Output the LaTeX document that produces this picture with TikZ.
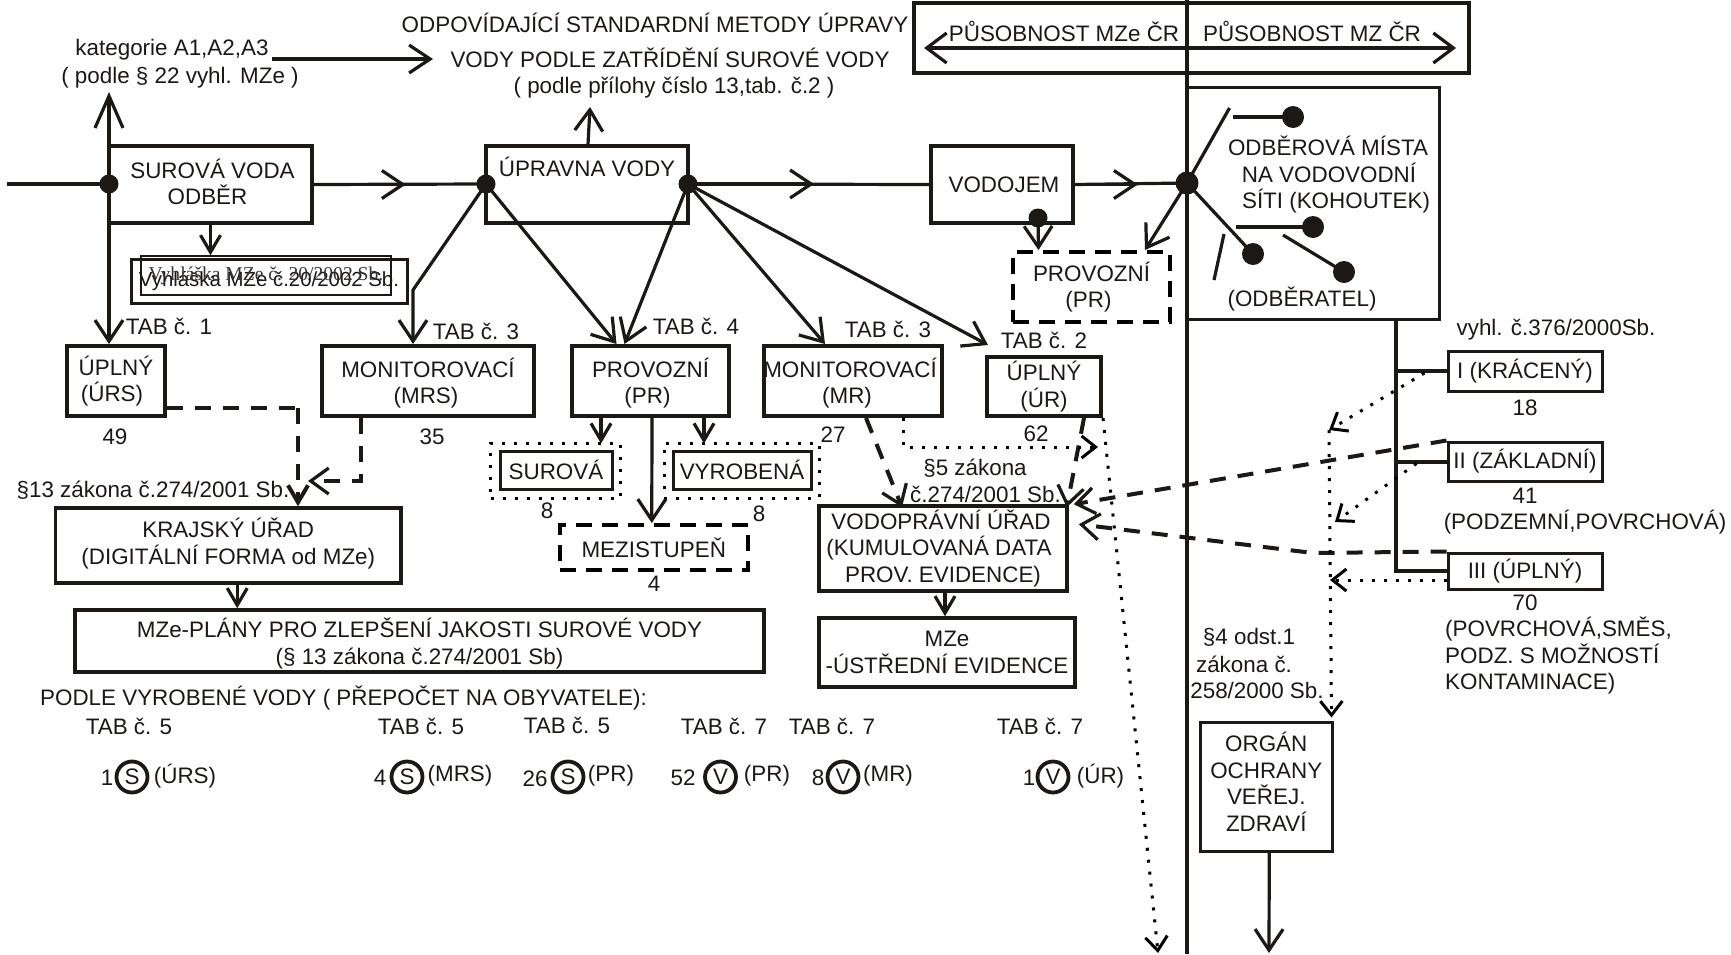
\documentclass[tikz,border=0pt]{standalone}
\usepackage{fontspec}
\setmainfont{Liberation Sans}
\newfontfamily\serifface{Liberation Serif}
\usetikzlibrary{arrows.meta,calc}
\definecolor{ink}{HTML}{1C1816}
\newcommand{\ls}[1]{\hspace*{#1pt}}
\tikzset{
  txt/.style={inner sep=0pt,align=center,text=ink,font=\fontsize{22.4}{26.5}\selectfont},
  box/.style={txt,draw=ink,line width=3.5pt,rectangle},
  thinbox/.style={txt,draw=ink,line width=3pt,rectangle},
  dashbox/.style={txt,draw=black,line width=4pt,dash pattern=on 16pt off 10pt},
  dotbox/.style={draw=black,line width=3pt,dash pattern=on 3pt off 9pt,rectangle,inner sep=0pt},
  dot/.style={circle,fill=ink,inner sep=0pt,minimum size=19pt},
  bigdot/.style={circle,fill=ink,inner sep=0pt,minimum size=23pt},
  circ/.style={txt,circle,draw=ink,line width=3.8pt,minimum size=31pt},
  ln/.style={draw=ink,line width=3.2pt},
  arr/.style={ln,-{Straight Barb[length=21pt,width=28pt]}},
  arrL/.style={ln,-{Straight Barb[length=32pt,width=28pt]}},
  arrS/.style={ln,-{Straight Barb[length=17pt,width=20pt]}},
  dsh/.style={draw=ink,line width=4pt,dash pattern=on 16pt off 12pt,-{Straight Barb[length=18pt,width=26pt,line width=3.2pt]}},
  dsh0/.style={draw=ink,line width=4pt,dash pattern=on 16pt off 12pt},
  dtt/.style={draw=black,line width=3pt,dash pattern=on 3pt off 9pt,-{Straight Barb[length=14pt,width=22pt,line width=3pt]}},
}
\newcommand{\bx}[7]{%
  \pgfmathsetmacro{\cxx}{(#2+#4)/2}\pgfmathsetmacro{\cyy}{(#3+#5)/2}%
  \node[#6,minimum width={(#4-#2)*1pt},minimum height={(#5-#3)*1pt}] (#1) at (\cxx,\cyy) {#7};}
\begin{document}
\begin{tikzpicture}[x=1pt,y=-1pt]
\useasboundingbox[fill=white] (0,0) rectangle (1731,954);
% ---- boxes
\bx{top}{914}{3}{1469}{73}{box}{}
\bx{odb}{1187}{87}{1439}{319}{thinbox}{}
\bx{srv}{109}{146}{312}{223}{box}{\ls{4}SUROVÁ VODA\\\ls{-6}ODBĚR\rule[-5pt]{0pt}{5pt}}
\bx{upr}{486}{146}{688}{223}{box}{ÚPRAVNA VODY\\[9pt]\rule{0pt}{6pt}}
\bx{voj}{931}{146}{1073}{223}{box}{\ls{4}VODOJEM\rule{0pt}{15pt}}
\bx{vyhO}{131}{259}{407}{303}{thinbox}{\fontsize{20.4}{24}\selectfont Vyhláška MZe č.20/2002 Sb.}
\bx{vyhI}{141}{256}{391}{295}{txt,draw=ink,line width=1.4pt}{\serifface\color{black!80}\fontsize{19.6}{24}\selectfont Vyhláška MZe č. 20/2002 Sb.}
\bx{urs}{67}{346}{165}{416}{box,line width=4pt}{ÚPLNÝ\\\ls{-8}(ÚRS)}
\bx{mrs}{322}{346}{534}{416}{box,line width=4pt}{\rule{0pt}{24pt}MONITOROVACÍ\\\ls{-4}(MRS)}
\bx{prv}{572}{346}{729}{416}{box,line width=4pt}{\rule{0pt}{24pt}PROVOZNÍ\\\ls{-6}(PR)}
\bx{mr}{764}{346}{942}{416}{box,line width=4pt}{\rule{0pt}{24pt}\ls{-6}MONITOROVACÍ\\\ls{-12}(MR)}
\bx{ur}{987}{357}{1101}{416}{box,line width=4pt}{ÚPLNÝ\\(ÚR)}
\bx{pdsh}{1013}{252}{1170}{322}{dashbox}{PROVOZNÍ\\\ls{-6}(PR)}
\bx{surO}{490.5}{443}{620}{498}{dotbox}{}
\bx{vyrO}{664}{443}{819}{498}{dotbox}{}
\bx{sur}{500}{451}{612}{489}{thinbox}{SUROVÁ}
\bx{vyr}{673}{451}{811}{489}{thinbox}{VYROBENÁ}
\bx{mez}{559.5}{525}{748}{570}{dashbox}{MEZISTUPEŇ}
\bx{kraj}{55.5}{508}{401}{583}{box}{KRAJSKÝ ÚŘAD\\(DIGITÁLNÍ FORMA od MZe)\rule[-9pt]{0pt}{9pt}}
\bx{plan}{75}{610}{764}{672}{box}{\rule{0pt}{25pt}MZe-PLÁNY PRO ZLEPŠENÍ JAKOSTI SUROVÉ VODY\\(§ 13 zákona č.274/2001 Sb)}
\bx{vod}{819}{506}{1067}{591}{box}{\ls{-4}VODOPRÁVNÍ ÚŘAD\\\ls{-8}(KUMULOVANÁ DATA\\PROV. EVIDENCE)}
\bx{mzc}{819}{618}{1075}{687}{box}{MZe\\-ÚSTŘEDNÍ EVIDENCE}
\bx{ki}{1448}{351}{1602}{391}{thinbox}{I (KRÁCENÝ)}
\bx{kii}{1448}{442}{1602}{481}{thinbox}{II (ZÁKLADNÍ)}
\bx{kiii}{1448}{553}{1602}{589}{thinbox}{III (ÚPLNÝ)}
\bx{org}{1200.5}{722}{1332}{851}{thinbox}{ORGÁN\\OCHRANY\\VEŘEJ.\\ZDRAVÍ\rule[-9pt]{0pt}{9pt}}
% ---- dots
\node[dot] (dS) at (109,184) {};
\node[dot] (dU1) at (486,184) {};
\node[dot] (dU2) at (688,184) {};
\node[dot] (dV) at (1038,218) {};
\node[bigdot] (dC) at (1187,183) {};
\node[bigdot,minimum size=22pt] (d1) at (1293,117) {};
\node[bigdot,minimum size=22pt] (d2) at (1313,227) {};
\node[bigdot,minimum size=22pt] (d3) at (1253,254) {};
\node[bigdot,minimum size=22pt] (d4) at (1344,272) {};
% ---- named free ends
\coordinate (vTop) at (1187,0);
\coordinate (vBot) at (1187,954);
\coordinate (inL) at (7,184);
\coordinate (topL) at (924,48);
\coordinate (topR) at (1456,48);
\coordinate (mrsK) at (413,290);
\coordinate (o1) at (1229.5,108);
\coordinate (o1b) at (1233,117);
\coordinate (o2b) at (1236,227);
\coordinate (o4b) at (1283,235);
\coordinate (o5a) at (1224,234);
\coordinate (o5b) at (1214,280);
\coordinate (riser) at (1395.5,319);
\coordinate (dv1) at (1329,430);
\coordinate (dv2) at (1335,522);
\coordinate (dv3) at (1330,580);
\coordinate (dk3) at (1313,553);
\coordinate (c1) at (298,408);
\coordinate (c2) at (361,481);
\coordinate (c3) at (308,481);
\coordinate (m1) at (903,447);
\coordinate (m2) at (1098,447);
\coordinate (offD) at (1158,953);
\coordinate (offO) at (1269,953);
\coordinate (katA) at (272,59);
\coordinate (katB) at (433,59);
\coordinate (upS) at (109,92);
\coordinate (upU) at (590,107);
% ---- main lines
\draw[ln] (vTop) -- (vBot);
\draw[ln] (inL) -- (dS.center);
\draw[ln] (srv.east) -- (dU1.center);
\draw[arr] (srv.east) -- ([xshift=92pt]srv.east);
\draw[ln] (dU2.center) -- (voj.west);
\draw[arr] (dU2.center) -- ([xshift=126pt]dU2.center);
\draw[ln] (voj.east) -- (dC.center);
\draw[arr] (voj.east) -- ([xshift=63pt]voj.east);
\draw[ln,<->,>={Straight Barb[length=20pt,width=30pt]}] (topL) -- (topR);
\draw[arrL] (dS.center) -- (upS);
\draw[arr] ([xshift=1pt]upr.north) -- (upU);
\draw[arr] (katA) -- (katB);
\draw[arrS] (srv.south) -- (srv.south |- vyhI.north);
\draw[arr] (dS.center) -- ([xshift=-7pt]urs.north);
\draw[arr] (dU1.center) -- (mrsK) -- ([xshift=-15pt]mrs.north);
\draw[arr] (dU1.center) -- ([xshift=-34pt]prv.north);
\draw[arr] (dU2.center) -- ([xshift=-26pt]prv.north);
\draw[arr] (dU2.center) -- ([xshift=-28pt]mr.north);
\draw[arr] (dU2.center) -- ([xshift=-56pt,yshift=10pt]ur.north);
\draw[arr] (dV.center) -- ([xshift=-53pt]pdsh.north);
\draw[arr] (dC.center) -- ([xshift=-27pt]pdsh.north east);
% ---- odběrová místa
\draw[ln] (dC.center) -- (o1);
\draw[ln,line width=4pt] (o1b) -- (d1.center);
\draw[ln,line width=4pt] (o2b) -- (d2.center);
\draw[ln] (dC.center) -- (d3.center);
\draw[ln] (o4b) -- (d4.center);
\draw[ln] (o5a) -- (o5b);
% ---- categories
\draw[ln,line width=4pt] (riser) |- (kiii.west);
\draw[ln,line width=4pt] (ki.west) -- (riser |- ki.west);
\draw[ln,line width=4pt] (kii.west) -- (riser |- kii.west);
% ---- below provozní
\draw[arrS] ([xshift=-49.5pt]prv.south) -- ([xshift=-49.5pt,yshift=-2pt]prv.south |- surO.north);
\draw[arrS] ([xshift=53.5pt]prv.south) -- ([xshift=53.5pt,yshift=-2pt]prv.south |- vyrO.north);
\draw[arr] ([xshift=1.5pt]prv.south) -- ([xshift=-2pt]mez.north);
\draw[arrS] ([xshift=9pt]kraj.south) -- ([xshift=9pt]kraj.south |- plan.north);
\draw[arrS] ([xshift=2pt]vod.south) -- ([xshift=2pt]vod.south |- mzc.north);
% ---- dashed
\draw[dsh0] (urs.east |- c1) -- (c1);
\draw[arrS,dash pattern=on 16pt off 12pt,line width=4pt] (c1) -- (c1 |- kraj.north);
\draw[dsh] ([xshift=-67pt]mrs.south) -- (c2) -- (c3);
\draw[dsh] ([xshift=13pt]mr.south) -- ([xshift=-41pt,yshift=-3pt]vod.north);
\draw[dsh] ([xshift=40pt]ur.south) -- ([xshift=-2pt,yshift=-3pt]vod.north east);
\draw[dsh] (kii.north west) -- ([xshift=5pt]vod.north east);
\draw[dsh] (kiii.north west) -- (dk3) -- ([xshift=10pt,yshift=-20pt]vod.north east);
% ---- dotted
\draw[dtt] ([xshift=50pt]mr.south) -- (m1) -- (m2);
\draw[dtt] (ur.south east) -- (offD);
\draw[dtt] ([xshift=-22pt,yshift=-2pt]ki.west) -- (dv1);
\draw[dtt] ([xshift=-30pt,yshift=-2pt]kii.west) -- (dv2);
\draw[dtt] ([yshift=-9pt]kiii.west) -- (dv3);
\draw[dtt] (dv1) -- ([xshift=-2pt,yshift=3pt]org.north east);
% ---- orgán
\draw[arr] ([xshift=3pt]org.south) -- (offO);
% ---- free texts
\node[txt] (tP1) at (1064,31) {PŮSOBNOST MZe ČR};
\node[txt] (tP2) at (1312,31) {PŮSOBNOST MZ ČR};
\node[txt] (tK1) at (172,50) {kategorie A1,A2,A3};
\node[txt] (tK2) at (180,78) {( podle § 22 vyhl. MZe )};
\node[txt] (tM1) at (655,23) {ODPOVÍDAJÍCÍ STANDARDNÍ METODY ÚPRAVY};
\node[txt] (tM2) at (670,58) {VODY PODLE ZATŘÍDĚNÍ SUROVÉ VODY};
\node[txt] (tM3) at (674,88) {( podle přílohy číslo 13,tab. č.2 )};
\node[txt] (tO1) at (1331,175) {\ls{-6}ODBĚROVÁ MÍSTA\\\ls{-4}NA VODOVODNÍ\\\ls{10}SÍTI (KOHOUTEK)};
\node[txt] (tO2) at (1302,299) {(ODBĚRATEL)};
\node[txt] (tT1) at (169,326) {TAB č. 1};
\node[txt] (tT2) at (476,331) {TAB č. 3};
\node[txt] (tT3) at (696,326) {TAB č. 4};
\node[txt] (tT4) at (888,329) {TAB č. 3};
\node[txt] (tT5) at (1044,340) {TAB č. 2};
\node[txt] (n49) at (115,437) {49};
\node[txt] (n35) at (432,437) {35};
\node[txt] (n27) at (833,435) {27};
\node[txt] (n62) at (1036,434) {62};
\node[txt] (n8a) at (547,511) {8};
\node[txt] (n8b) at (759,514) {8};
\node[txt] (n4) at (654,584) {4};
\node[txt] (tPar13) at (153,490) {§13 zákona č.274/2001 Sb.};
\node[txt] (tPar5a) at (975,468) {§5 zákona};
\node[txt] (tPar5b) at (985.5,494) {č.274/2001 Sb.};
\node[txt] (tV) at (1556,330) {vyhl. č.376/2000Sb.};
\node[txt] (n18) at (1525,408) {18};
\node[txt] (n41) at (1525,496) {41};
\node[txt] (n70) at (1525,603) {70};
\node[txt] (tPP) at (1585,522) {(PODZEMNÍ,POVRCHOVÁ)};
\node[txt,anchor=north west,align=left] (tPS) at (1445,617) {(POVRCHOVÁ,SMĚS,\\PODZ. S MOŽNOSTÍ\\KONTAMINACE)};
\node[txt] (tZ1) at (1249,637) {§4 odst.1};
\node[txt] (tZ2) at (1244,664) {zákona č.};
\node[txt] (tZ3) at (1257,690) {258/2000 Sb.};
\node[txt] (tPod) at (343.5,698) {PODLE VYROBENÉ VODY ( PŘEPOČET NA OBYVATELE):};
\node[txt] (t51) at (129,726) {TAB č. 5};
\node[txt] (t52) at (421,726) {TAB č. 5};
\node[txt] (t53) at (567,725) {TAB č. 5};
\node[txt] (t71) at (724,726) {TAB č. 7};
\node[txt] (t72) at (832,726) {TAB č. 7};
\node[txt] (t73) at (1040,726) {TAB č. 7};
% ---- circled
\node[circ] (cS1) at (132,777) {S};
\node[circ] (cS2) at (407,777) {S};
\node[circ] (cS3) at (568,777) {S};
\node[circ] (cV1) at (720.5,777) {V};
\node[circ] (cV2) at (843,777) {V};
\node[circ] (cV3) at (1053,777) {V};
\node[txt] (a1) at (107,778) {1};
\node[txt] (b1) at (185,776) {(ÚRS)};
\node[txt] (a2) at (380,778) {4};
\node[txt] (b2) at (460,776) {(MRS)};
\node[txt] (a3) at (535,779) {26};
\node[txt] (b3) at (611,776) {(PR)};
\node[txt] (a4) at (683,778) {52};
\node[txt] (b4) at (767,776) {(PR)};
\node[txt] (a5) at (818,778) {8};
\node[txt] (b5) at (888,776) {(MR)};
\node[txt] (a6) at (1029,778) {1};
\node[txt] (b6) at (1100.5,776) {(ÚR)};
\end{tikzpicture}
\end{document}
